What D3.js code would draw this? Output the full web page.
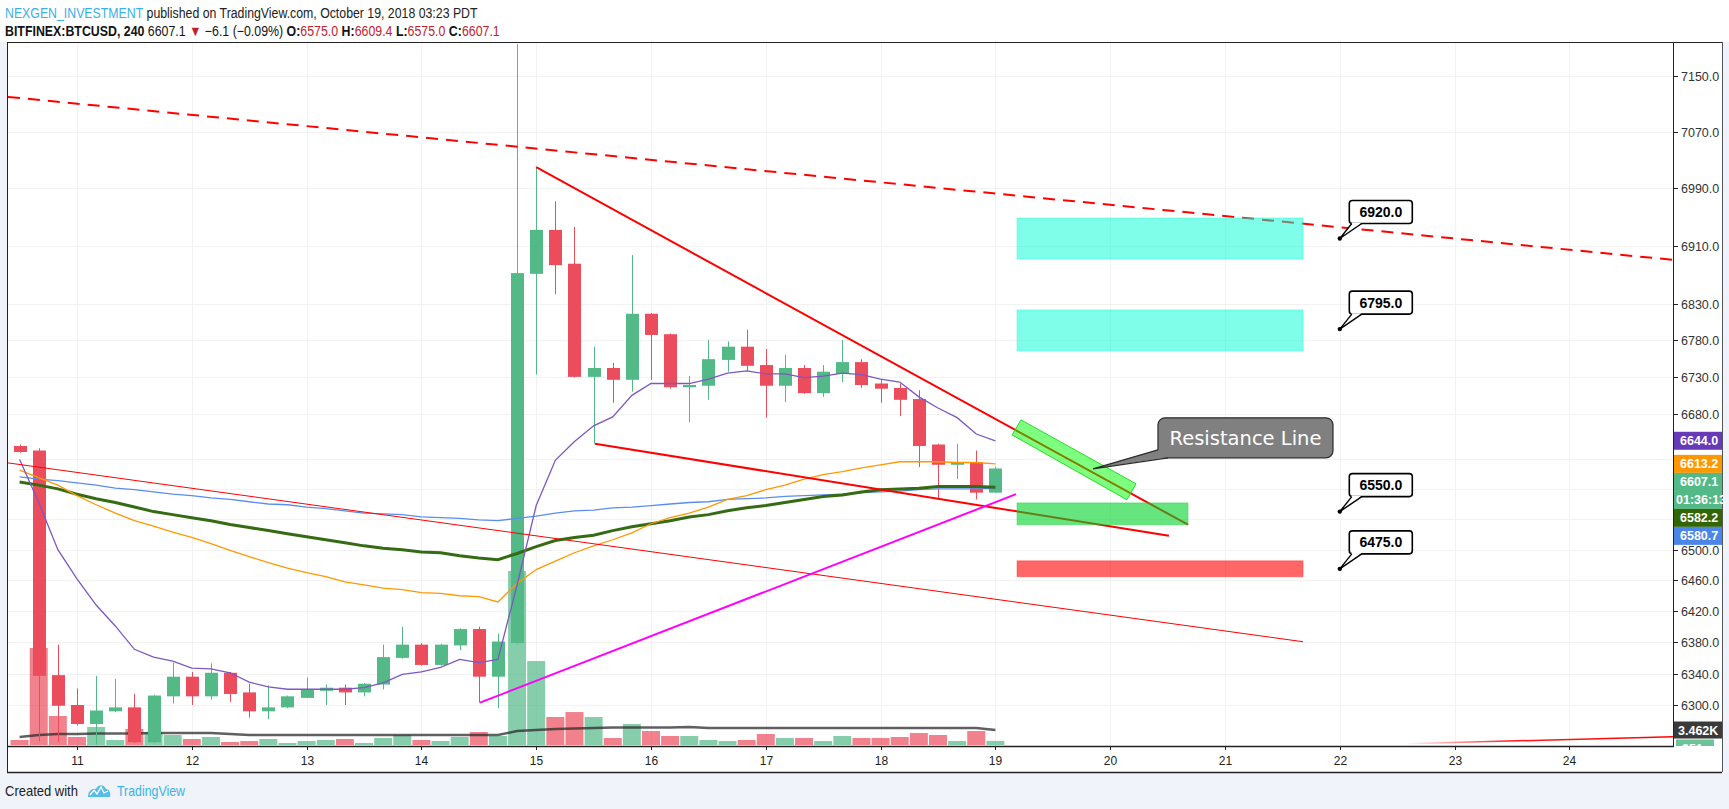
<!DOCTYPE html>
<html><head><meta charset="utf-8">
<script src="https://cdnjs.cloudflare.com/ajax/libs/d3/7.8.5/d3.min.js"></script>
<style>
html,body{margin:0;padding:0;background:#f0f3fa;}
svg{display:block;font-family:"Liberation Sans",Arial,sans-serif;}
</style></head><body>
<svg id="chart" width="1729" height="809"></svg>
<script>
// ---------------- DATA ----------------
const barStartDay = 10.5;      // Oct 10, 12:00
const barHours = 4;            // 240-minute bars
const opens  = [6637,6631,6338,6300,6276,6292,6297,6253,6311,6336,6311,6341,6316,6292,6297,6309,6318,6322,6316,6326,6360,6377,6351,6376,6397,6336,6379,6871,6932,6885,6730,6742,6726,6816,6788,6716,6718,6753,6771,6746,6718,6742,6708,6734,6750,6721,6715,6700,6639,6612,6615,6575.0];
const highs  = [6639,6634,6377,6321,6337,6333,6314,6313,6354,6342,6353,6342,6327,6325,6312,6335,6326,6326,6328,6377,6400,6379,6378,6398,6400,6391,7196,7020,6972,6936,6771,6749,6897,6817,6789,6731,6780,6778,6794,6768,6760,6746,6746,6780,6754,6727,6721,6712,6640,6640,6631,6609.4];
const lows   = [6628,6254,6253,6274,6250,6291,6252,6252,6302,6300,6307,6304,6284,6282,6296,6309,6300,6300,6311,6320,6359,6350,6350,6370,6303,6296,6378,6733,6843,6729,6640,6695,6710,6726,6714,6669,6699,6737,6738,6675,6696,6707,6703,6723,6715,6695,6677,6609,6568,6593,6566,6575.0];
const closes = [6629,6337,6299,6276,6293,6297,6253,6312,6336,6311,6341,6314,6292,6297,6311,6320,6322,6316,6327,6361,6377,6351,6377,6397,6336,6381,6872,6932,6883,6730,6742,6726,6816,6787,6716,6719,6754,6771,6745,6718,6742,6708,6737,6750,6719,6714,6699,6637,6612,6615,6575,6607.1];
const volumes = [1155,22400,6700,1850,4160,1155,3700,3000,2310,1390,1850,690,920,1390,460,920,1155,1390,460,1620,2310,1155,920,1850,3000,2080,40200,19400,6470,7620,6470,1620,4850,3230,2080,2080,1155,920,1155,2540,1620,1620,920,2080,1620,1620,1850,2770,2310,920,3230,951];
const volMA = [1850,2310,2540,2540,2660,2660,2660,2770,2770,2770,2770,2540,2310,2310,2310,2310,2310,2310,2310,2310,2310,2310,2310,2310,2310,2310,3230,3470,3700,3810,3930,4040,4040,4040,4040,4160,3930,3930,3930,3930,3930,3930,3930,3930,3930,3930,3930,3930,3930,3930,3930,3462];
const maFast = [6619,6562,6500,6462,6428,6401,6371,6361,6356,6347,6346,6341,6329,6323,6320,6320,6320,6320,6322,6328,6339,6342,6348,6358,6354,6358,6454,6558,6618,6643,6664,6676,6705,6721,6721,6721,6727,6735,6738,6734,6734,6729,6731,6735,6733,6727,6723,6703,6688,6675,6653,6644.0];
const maMid  = [6605,6595,6585,6571,6559,6548,6538,6531,6523,6516,6508,6499,6491,6483,6476,6470,6465,6458,6454,6450,6448,6444,6443,6440,6439,6432,6456,6474,6485,6496,6505,6513,6522,6534,6542,6548,6556,6566,6571,6579,6585,6593,6599,6603,6608,6612,6616,6616,6616,6615,6615,6613.2];
const maSlow = [6589,6585,6580,6573,6567,6562,6556,6550,6546,6542,6538,6533,6529,6525,6521,6517,6513,6509,6505,6502,6500,6497,6496,6492,6489,6487,6495,6504,6512,6516,6519,6525,6530,6534,6538,6543,6546,6551,6555,6558,6562,6566,6570,6572,6576,6579,6580,6581,6583,6583,6583,6582.2];
const maLong = [6596,6593,6591,6588,6585,6581,6579,6576,6573,6571,6568,6566,6563,6560,6559,6556,6554,6551,6548,6547,6546,6543,6542,6541,6539,6538,6541,6544,6548,6551,6552,6555,6556,6558,6560,6562,6563,6566,6567,6568,6570,6571,6572,6573,6575,6576,6577,6579,6580,6580,6580,6580.7];
const dayTicks = [11,12,13,14,15,16,17,18,19,20,21,22,23,24];
const priceTicks = [6300,6340,6380,6420,6460,6500,6540,6580,6620,6680,6730,6780,6830,6910,6990,7070,7150];
// drawings: [startDay, endDay], [startPrice, endPrice]
const lineDashedDays = [10.399, 24.902], lineDashedPrices = [7120, 6890.3];
const lineThinDays = [10.399, 21.68],   lineThinPrices = [6614.5, 6380.7];
const lineUpperDays = [15.0, 20.678],   lineUpperPrices = [7020, 6532.7];
const lineLowerDays = [15.512, 20.512], lineLowerPrices = [6640, 6518.2];
const lineSupportDays = [14.51, 19.18], lineSupportPrices = [6303, 6573];
const lineFaintDays = [22.57, 24.902],  lineFaintPrices = [6251, 6260];
const zoneDays = [[19.188,21.68],[19.188,21.68],[19.188,20.678],[19.188,21.68]];
const zonePrices = [[6948.7,6891.6],[6821.3,6765.3],[6561.5,6532.7],[6485.5,6464.7]];
const channelDays = [19.223,20.225,20.146,19.145];
const channelPrices = [6672.0,6586.7,6565.6,6651.9];
const calloutDay = 19.85, calloutPrice = 6606.6, calloutText = "Resistance Line";
const noteDay = 22, notePrices = [6920, 6795, 6550, 6475];
const countdown = "01:36:13";

// ---------------- SETUP ----------------
const svg = d3.select("#chart");
const P = {l:7, r:1673, t:43, b:746};
const x = d3.scaleLinear().domain([11,24]).range([77,1569.4]);
const y = d3.scaleLog().domain([7150,6300]).range([76,705]);
const yv = d3.scaleLinear().domain([0,40200]).range([745,571]);
const barDay = i => barStartDay + i*barHours/24;
const UP="#53b987", DN="#eb4d5c";

svg.append("rect").attr("width",1729).attr("height",809).attr("fill","#f0f3fa");
svg.append("rect").attr("width",1729).attr("height",42).attr("fill","#ffffff");
svg.append("rect").attr("x",7).attr("y",42).attr("width",1715).attr("height",730).attr("fill","#ffffff");

const defs = svg.append("defs");
defs.append("clipPath").attr("id","pane").append("rect")
  .attr("x",P.l+1).attr("y",P.t).attr("width",P.r-P.l-1).attr("height",P.b-P.t);
defs.append("clipPath").attr("id","axisclip").append("rect")
  .attr("x",P.r).attr("y",P.t).attr("width",50).attr("height",P.b-P.t);
const grad = defs.append("linearGradient").attr("id","fadeRed").attr("x1","0%").attr("x2","100%");
grad.append("stop").attr("offset","0%").attr("stop-color","#ff0000").attr("stop-opacity",0);
grad.append("stop").attr("offset","40%").attr("stop-color","#ff0000").attr("stop-opacity",0.9);
grad.append("stop").attr("offset","100%").attr("stop-color","#ff0000").attr("stop-opacity",1);

const pane = svg.append("g").attr("clip-path","url(#pane)");

// grid
pane.selectAll(".vg").data(dayTicks).join("line")
  .attr("x1",d=>Math.round(x(d))+0.5).attr("x2",d=>Math.round(x(d))+0.5)
  .attr("y1",P.t).attr("y2",P.b).attr("stroke","#f2f2f2");
pane.selectAll(".hg").data(priceTicks).join("line")
  .attr("x1",P.l).attr("x2",P.r).attr("y1",d=>Math.round(y(d))+0.5).attr("y2",d=>Math.round(y(d))+0.5)
  .attr("stroke","#f2f2f2");

// volume
pane.selectAll(".vol").data(volumes).join("rect")
  .attr("x",(d,i)=>x(barDay(i))-9).attr("width",18)
  .attr("y",d=>yv(d)).attr("height",d=>yv(0)-yv(d))
  .attr("fill",(d,i)=>closes[i]>=opens[i]?"rgba(83,185,135,0.7)":"rgba(235,77,92,0.7)");
pane.append("path").datum(volMA)
  .attr("d",d3.line().x((d,i)=>x(barDay(i))).y(d=>yv(d)))
  .attr("fill","none").attr("stroke","#2b2b2b").attr("stroke-opacity",0.75).attr("stroke-width",2.5);

// candles
const cg = pane.append("g");
opens.forEach((o,i)=>{
  const c=closes[i], col = c>=o?UP:DN, cx=Math.round(x(barDay(i)))+0.5;
  cg.append("line").attr("x1",cx).attr("x2",cx).attr("y1",y(highs[i])).attr("y2",y(lows[i]))
    .attr("stroke",col).attr("stroke-width",1);
  const yt=y(Math.max(o,c)), yb=y(Math.min(o,c));
  cg.append("rect").attr("x",cx-6.5).attr("width",13).attr("y",yt).attr("height",Math.max(1.5,yb-yt)).attr("fill",col);
});

// moving averages
const maLine = d3.line().x((d,i)=>x(barDay(i))).y(d=>y(d));
[[maLong,"#5b8def",1.3],[maSlow,"#356b12",3],[maMid,"#ff9800",1.3],[maFast,"#7e57c2",1.3]].forEach(([arr,col,w])=>{
  pane.append("path").datum(arr).attr("d",maLine).attr("fill","none").attr("stroke",col).attr("stroke-width",w);
});

// trend lines
function tline(days, prices, col, w, dash){
  const l = pane.append("line").attr("x1",x(days[0])).attr("y1",y(prices[0]))
    .attr("x2",x(days[1])).attr("y2",y(prices[1])).attr("stroke",col).attr("stroke-width",w);
  if(dash) l.attr("stroke-dasharray",dash);
  return l;
}
tline(lineDashedDays,lineDashedPrices,"#ff0000",2,"12,8");
tline(lineThinDays,lineThinPrices,"#ff0000",1);
tline(lineUpperDays,lineUpperPrices,"#ff0000",2);
tline(lineLowerDays,lineLowerPrices,"#ff0000",2);
tline(lineSupportDays,lineSupportPrices,"#ff00ff",2);
tline(lineFaintDays,lineFaintPrices,"url(#fadeRed)",1.5);

// zones
const zoneFill = ["rgba(0,255,213,0.5)","rgba(0,255,213,0.5)","rgba(0,210,40,0.6)","rgba(255,0,0,0.6)"];
const zoneStroke = ["rgba(0,255,213,0.35)","rgba(0,255,213,0.35)","rgba(0,210,40,0.35)","rgba(255,0,0,0.3)"];
zoneDays.forEach((dd,k)=>{
  const y0=y(zonePrices[k][0]), y1=y(zonePrices[k][1]);
  pane.append("rect").attr("x",x(dd[0])).attr("width",x(dd[1])-x(dd[0]))
    .attr("y",y0).attr("height",y1-y0).attr("fill",zoneFill[k]).attr("stroke",zoneStroke[k]);
});
// rotated channel rectangle
pane.append("polygon")
  .attr("points",channelDays.map((d,k)=>[x(d),y(channelPrices[k])].join(",")).join(" "))
  .attr("fill","rgba(0,255,0,0.5)").attr("stroke","#22dd22").attr("stroke-width",1);

// callout "Resistance Line"
{
  const ax=x(calloutDay), ay=y(calloutPrice);
  const bx=ax+65, by=ay-51, bw=175, bh=40;
  const g=svg.append("g");
  g.append("rect").attr("x",bx).attr("y",by).attr("width",bw).attr("height",bh).attr("rx",7)
    .attr("fill","#808080").attr("stroke","#2b2b2b").attr("stroke-width",1.2);
  g.append("polygon").attr("points",`${bx+0.6},${by+bh-8} ${ax},${ay} ${bx+10},${by+bh-0.6}`)
    .attr("fill","#808080");
  g.append("polyline").attr("points",`${bx},${by+bh-8} ${ax},${ay} ${bx+10},${by+bh}`)
    .attr("fill","none").attr("stroke","#2b2b2b").attr("stroke-width",1.2);
  g.append("text").attr("x",bx+bw/2).attr("y",by+27).attr("text-anchor","middle")
    .attr("font-family","DejaVu Sans").attr("font-size",19.5).attr("fill","#ffffff").text(calloutText);
}

// price notes
notePrices.forEach(p=>{
  const px=x(noteDay), py=y(p);
  const g=svg.append("g");
  g.append("rect").attr("x",px+9.5).attr("y",py-38).attr("width",63).attr("height",23).attr("rx",3)
    .attr("fill","#fff").attr("stroke","#000").attr("stroke-width",1.6);
  g.append("polygon").attr("points",`${px+12},${py-15.8} ${px},${py} ${px+22},${py-15.8}`).attr("fill","#fff");
  g.append("polyline").attr("points",`${px+12},${py-15} ${px},${py} ${px+22},${py-15}`)
    .attr("fill","none").attr("stroke","#000").attr("stroke-width",1.4);
  g.append("circle").attr("cx",px).attr("cy",py).attr("r",2.2).attr("fill","#000");
  g.append("text").attr("x",px+41).attr("y",py-21.5).attr("text-anchor","middle")
    .attr("font-size",14).attr("font-weight","bold").attr("fill","#000").text(p.toFixed(1));
});

// frame & axes
const frame = svg.append("g").attr("stroke","#222").attr("stroke-width",1);
frame.append("line").attr("x1",7).attr("x2",1722).attr("y1",42.5).attr("y2",42.5);
frame.append("line").attr("x1",7.5).attr("x2",7.5).attr("y1",42).attr("y2",772);
frame.append("line").attr("x1",7).attr("x2",1722).attr("y1",772.5).attr("y2",772.5).attr("stroke-width",1.5);
frame.append("line").attr("x1",1722.5).attr("x2",1722.5).attr("y1",42).attr("y2",772).attr("stroke","#555");
frame.append("line").attr("x1",P.r+0.5).attr("x2",P.r+0.5).attr("y1",42).attr("y2",P.b+1);
frame.append("line").attr("x1",7).attr("x2",P.r+1).attr("y1",P.b+0.5).attr("y2",P.b+0.5).attr("stroke-width",1.5);

// time axis
const tax = svg.append("g");
dayTicks.forEach(d=>{
  const tx=Math.round(x(d))+0.5;
  tax.append("line").attr("x1",tx).attr("x2",tx).attr("y1",P.b).attr("y2",P.b+4).attr("stroke","#222");
  tax.append("text").attr("x",tx).attr("y",765).attr("text-anchor","middle").attr("font-size",12)
    .attr("fill","#222").text(d);
});

// price axis: last-value labels first (positions), then tick labels not hidden by them
const pax = svg.append("g").attr("clip-path","url(#axisclip)");
const lastLabels = [
  {v:maFast[maFast.length-1], c:"#673ab7", h:18},
  {v:maMid[maMid.length-1], c:"#ff9800", h:18},
  {v:closes[closes.length-1], c:UP, h:36, extra:countdown},
  {v:maSlow[maSlow.length-1], c:"#336600", h:18},
  {v:maLong[maLong.length-1], c:"#4a86e8", h:18}
].map(d=>({...d, yy:y(d.v)})).sort((a,b)=>a.yy-b.yy);
let prevBottom=-1e9;
lastLabels.forEach(d=>{
  let top = d.extra ? d.yy-9 : d.yy-d.h/2;
  top = Math.max(top, prevBottom); prevBottom = top+d.h; d.top=top;
});
const tickG = pax.append("g"), labG = pax.append("g");
priceTicks.forEach(p=>{
  const ty=Math.round(y(p))+0.5;
  tickG.append("line").attr("x1",P.r).attr("x2",P.r+5).attr("y1",ty).attr("y2",ty).attr("stroke","#222");
  const hidden = lastLabels.some(d=>ty>=d.top-1 && ty<=d.top+d.h+1);
  if(!hidden) tickG.append("text").attr("x",P.r+8).attr("y",ty+4.3).attr("font-size",12.5).attr("fill","#333").text(p.toFixed(1));
});
lastLabels.forEach(d=>{
  labG.append("rect").attr("x",P.r+1).attr("y",d.top).attr("width",48).attr("height",d.h).attr("fill",d.c);
  labG.append("text").attr("x",P.r+7).attr("y",d.top+13.5).attr("font-size",12.5).attr("font-weight","bold")
    .attr("fill","#fff").text(d.v.toFixed(1));
  if(d.extra) labG.append("text").attr("x",P.r+3).attr("y",d.top+31.5).attr("font-size",12.5).attr("font-weight","bold")
    .attr("fill","#fff").text(d.extra);
});
// volume labels
{
  const vm = volMA[volMA.length-1], vy = yv(vm);
  const top1 = vy-8.5;
  labG.append("rect").attr("x",P.r+1).attr("y",top1).attr("width",48).attr("height",17).attr("fill","#3a3a3a");
  labG.append("text").attr("x",P.r+5).attr("y",top1+13).attr("font-size",12.5).attr("font-weight","bold")
    .attr("fill","#fff").text((vm/1000).toFixed(3)+"K");
  const lv = volumes[volumes.length-1];
  const top2 = Math.max(yv(lv)-8.5, top1+18);
  labG.append("rect").attr("x",P.r+3).attr("y",top2).attr("width",38).attr("height",17).attr("fill","rgba(83,185,135,0.85)");
  labG.append("text").attr("x",P.r+9).attr("y",top2+13).attr("font-size",12.5).attr("font-weight","bold")
    .attr("fill","#fff").text(lv);
}

// helper: fit a text horizontally to a target width with a scale transform
function fitText(sel, x0, y0, target){
  const w = sel.node().getComputedTextLength();
  sel.attr("x",0).attr("y",0).attr("transform",`translate(${x0},${y0}) scale(${target/w},1)`);
}

// header
const n=closes.length-1;
const h1 = svg.append("text").attr("font-size",14.5)
  .call(t=>{
    t.append("tspan").attr("fill","#3bb0e4").text("NEXGEN_INVESTMENT");
    t.append("tspan").attr("fill","#222").text(" published on TradingView.com, October 19, 2018 03:23 PDT");
  });
fitText(h1, 5, 18, 473);
const RED="#c0222d";
const h2 = svg.append("text").attr("font-size",14.5)
  .call(t=>{
    const parts=[
      ["BITFINEX:BTCUSD, 240","bold","#131313"],
      [" "+closes[n].toFixed(1)+" ","normal","#131313"],
      ["▼","normal",RED],
      [" −6.1 (−0.09%) ","normal","#131313"],
      ["O:","bold","#131313"],[opens[n].toFixed(1),"normal",RED],
      [" H:","bold","#131313"],[highs[n].toFixed(1),"normal",RED],
      [" L:","bold","#131313"],[lows[n].toFixed(1),"normal",RED],
      [" C:","bold","#131313"],[closes[n].toFixed(1),"normal",RED]
    ];
    parts.forEach(([s,w,c])=>t.append("tspan").attr("font-weight",w).attr("fill",c).text(s));
  });
fitText(h2, 5, 35.5, 495);

// footer
const f1 = svg.append("text").attr("font-size",14).attr("fill","#222").text("Created with");
fitText(f1, 5, 796, 73);
svg.append("path").attr("d","M88,797 C88,791 92,788 96,789 C98,784 104,784 106,789 C109,789 111,792 110,797 Z")
  .attr("fill","#3bb3e4").attr("opacity",0.85);
svg.append("path").attr("d","M90,795 L94,790 L97,794 L101,787 L104,793 L108,791")
  .attr("fill","none").attr("stroke","#fff").attr("stroke-width",1.3);
const f2 = svg.append("text").attr("font-size",14).attr("fill","#3bb3e4").text("TradingView");
fitText(f2, 117, 796, 68);
</script>
</body></html>
